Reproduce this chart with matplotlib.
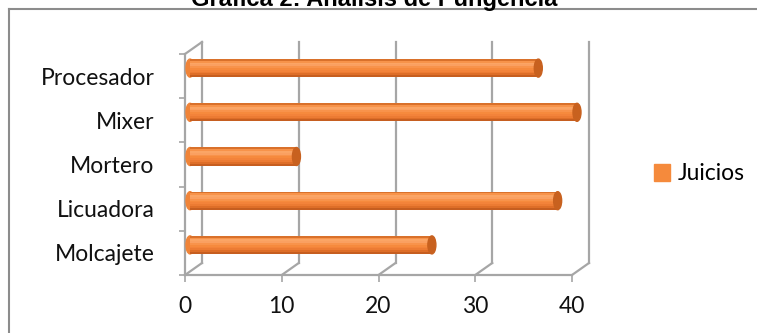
import matplotlib
matplotlib.use("Agg")
import matplotlib.pyplot as plt
import numpy as np
from matplotlib.patches import Ellipse, Rectangle
from matplotlib.transforms import offset_copy
from matplotlib.lines import Line2D

# --- data ---
categories = ["Molcajete", "Licuadora", "Mortero", "Mixer", "Procesador"]
juicios = [25, 38, 11, 40, 36]
x_ticks = [0, 10, 20, 30, 40]
title = "Gráfica 2: Análisis de Pungencia"
series_name = "Juicios"

W, H, DPI = 757, 333, 100
fig = plt.figure(figsize=(W / DPI, H / DPI), dpi=DPI)

# front floor box in pixels
left_px, right_px, top_px, bot_px = 185, 572, 54, 275
ax = fig.add_axes([left_px / W, 1 - bot_px / H,
                   (right_px - left_px) / W, (bot_px - top_px) / H])
ax.set_xlim(0, 40)
ax.set_ylim(-0.5, len(categories) - 0.5)
for s in ax.spines.values():
    s.set_visible(False)
ax.patch.set_alpha(0)

grid_c = "#A6A6A6"
depth_x, depth_y = 17, 12  # 3d offset of back wall, pixels
back = offset_copy(ax.transData, fig=fig, x=depth_x, y=depth_y, units="dots")
mid = offset_copy(ax.transData, fig=fig, x=5, y=8, units="dots")

ppx = (right_px - left_px) / 40
ppy = (bot_px - top_px) / len(categories)
dx, dy = depth_x / ppx, depth_y / ppy
y0, y1 = -0.5, len(categories) - 0.5

# back wall gridlines + floor diagonals
for v in x_ticks:
    ax.plot([v, v], [y0, y1], color=grid_c, lw=1.6, transform=back, clip_on=False, zorder=1)
    ax.plot([v, v + dx], [y0, y0 + dy], color=grid_c, lw=1.6, clip_on=False, zorder=1)
# left wall: front line and top diagonal
ax.plot([0, 0], [y0, y1], color=grid_c, lw=1.6, clip_on=False, zorder=1)
ax.plot([0, dx], [y1, y1 + dy], color=grid_c, lw=1.6, clip_on=False, zorder=1)
# floor front line
ax.plot([0, 40], [y0, y0], color=grid_c, lw=1.6, clip_on=False, zorder=1)

# --- cylinder bars ---
shade = ["#D9712B", "#F7934A", "#FBA565", "#FAA061", "#F8934B", "#F68A3D",
         "#F3833A", "#EC7B33", "#DE6E28", "#C65E20"]
bar_h = 18 / ppy
n = len(shade)
cap_w = 8 / ppx
for i, v in enumerate(juicios):
    ax.add_patch(Ellipse((0, i), cap_w, bar_h, color="#F08438", transform=mid,
                         clip_on=False, zorder=2))
    for k, c in enumerate(shade):
        yk = i + bar_h / 2 - (k + 0.5) * bar_h / n
        ax.barh(yk, v, height=bar_h / n * 1.02, color=c, transform=mid,
                clip_on=False, zorder=3, linewidth=0)
    ax.add_patch(Ellipse((v, i), cap_w, bar_h, color="#C8611F", transform=mid,
                         clip_on=False, zorder=4))

# ticks and labels
lab_font = "Lato"
fs = 16.5
ax.set_xticks(x_ticks)
ax.set_xticklabels([str(t) for t in x_ticks], fontsize=fs, family=lab_font, color="#111111")
ax.tick_params(axis="x", length=5, width=1.2, color=grid_c, pad=10)
ax.set_yticks(range(len(categories)))
ax.set_yticklabels(categories, fontsize=fs, family=lab_font, color="#111111")
ax.tick_params(axis="y", length=0, pad=22)
ax.set_yticks(np.arange(y0, y1 + 0.1, 1), minor=True)
ax.tick_params(axis="y", which="minor", length=4, width=1.2, color=grid_c)

# legend
leg = [Rectangle((0, 0), 1, 1, color="#F58A3C")]
fig.legend(leg, [series_name], loc="center left", bbox_to_anchor=(633 / W, 1 - 174 / H),
           frameon=False, prop={"family": lab_font, "size": fs},
           handlelength=0.7, handleheight=0.7, handletextpad=0.35)

# outer chart frame
fig.add_artist(Line2D([9 / W, 9 / W], [0, 1 - 9 / H], color="#8C8C8C", lw=1.5))
fig.add_artist(Line2D([9 / W, 1], [1 - 9 / H, 1 - 9 / H], color="#8C8C8C", lw=1.5))

fig.text(374 / W, 1 - 6 / H, title, ha="center", va="baseline",
         fontsize=17, fontweight="bold", family="Liberation Sans")

fig.savefig("out.png", dpi=DPI)
